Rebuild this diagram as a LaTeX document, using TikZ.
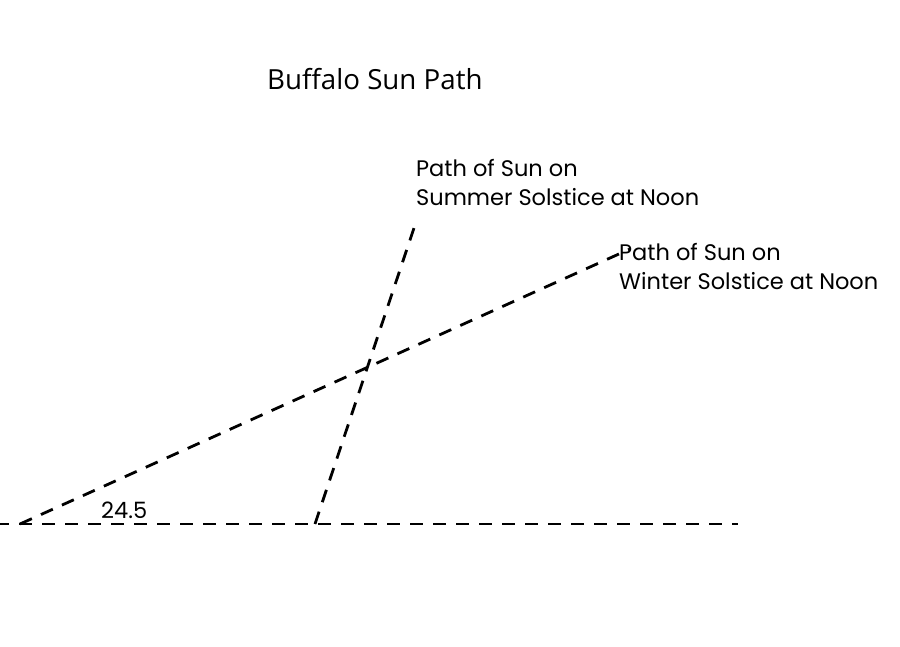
\documentclass[tikz,border=0pt]{standalone}
\usepackage{fontspec}
\setmainfont{Poppins}
\newfontfamily\titlefont{Open Sans}
\begin{document}
\begin{tikzpicture}[x=1pt,y=-1pt,
  sunline/.style={line width=2.8pt, dash pattern=on 13pt off 10pt},
  lbl/.style={inner sep=0pt, font=\fontsize{22.5}{29}\selectfont, align=left, anchor=north west},
  ttl/.style={inner sep=0pt, font=\titlefont\fontsize{27.7}{32}\selectfont, anchor=base west}]
\useasboundingbox (0,0) rectangle (900,647);
\fill[white] (0,0) rectangle (900,647);
\coordinate (hL) at (-4,524);
\coordinate (hR) at (738,524);
\coordinate (wS) at (20,524);
\coordinate (wE) at (630,249);
\coordinate (sS) at (315,524);
\coordinate (sE) at (416,222);
\draw[sunline] (hL) -- (hR);
\draw[sunline] (wS) -- (wE);
\draw[sunline] (sS) -- (sE);
\node[ttl] (title) at (267,90) {Buffalo Sun Path};
\node[lbl] (summer) at (416,159) {Path of Sun on\\Summer Solstice at Noon};
\node[lbl] (winter) at (619,243) {Path of Sun on\\Winter Solstice at Noon};
\node[inner sep=0pt, anchor=base west, font=\fontsize{22.5}{26}\selectfont] (angle) at (101,518) {24.5};
\end{tikzpicture}
\end{document}
